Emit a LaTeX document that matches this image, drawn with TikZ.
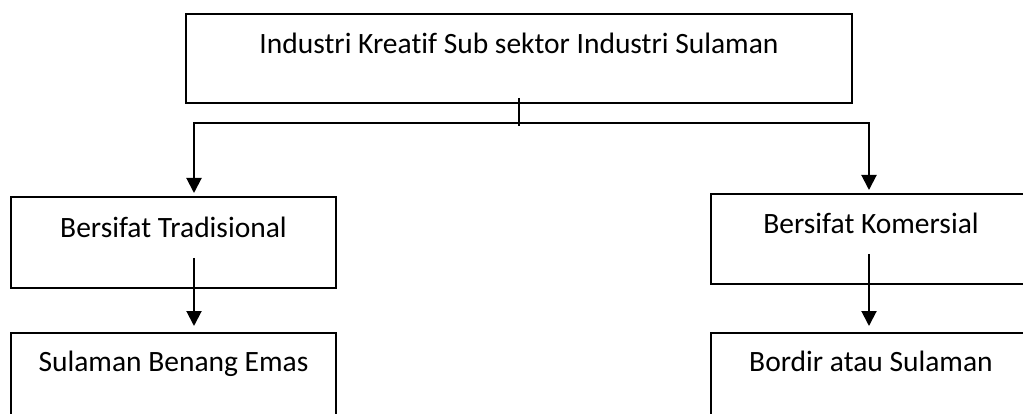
\documentclass[tikz,border=0pt]{standalone}
\usepackage{fontspec}
\setmainfont{Carlito}[RawFeature=-liga]
\usetikzlibrary{arrows.meta,calc}

\begin{document}
\begin{tikzpicture}[x=1pt, y=-1pt, line width=2pt,
  every node/.style={draw, inner sep=0pt, anchor=north west, text height=40pt, text depth=50pt,
    font=\fontsize{29.5pt}{34pt}\selectfont},
  arr/.style={-{Triangle[width=15pt,length=15pt]}}]
  \useasboundingbox (0,0) rectangle (1023,414);
  \clip (0,0) rectangle (1023,414);
  % boxes
  \node[minimum width=666pt, text depth=49pt] (induk) at (185,13) {Industri Kreatif Sub sektor Industri Sulaman};
  \node[minimum width=325pt, text height=41pt] (trad) at (10,196) {Bersifat Tradisional};
  \node[minimum width=320pt] (kom) at (710,193) {Bersifat Komersial};
  \node[minimum width=325pt, text height=38pt, text depth=62pt] (sulam) at (10,332) {Sulaman Benang Emas};
  \node[minimum width=320pt, text height=38pt, text depth=62pt] (bordir) at (710,332) {Bordir atau Sulaman};
  % branch points
  \coordinate (cabang) at (519,123);
  \coordinate (kiri) at (194,123);
  \coordinate (kanan) at (869,123);
  \draw ([yshift=6pt]induk.south -| cabang) -- ([yshift=-3pt]cabang);
  \foreach \sisi/\atas/\bawah in {kiri/trad/sulam, kanan/kom/bordir} {
    \draw[arr] (cabang) -- (\sisi) -- ([yshift=3pt]\sisi |- \atas.north);
    \draw[arr] ($(\sisi |- \atas.south)+(0,-31)$) -- ($(\sisi |- \bawah.north)+(0,-6)$);
  }
\end{tikzpicture}
\end{document}
